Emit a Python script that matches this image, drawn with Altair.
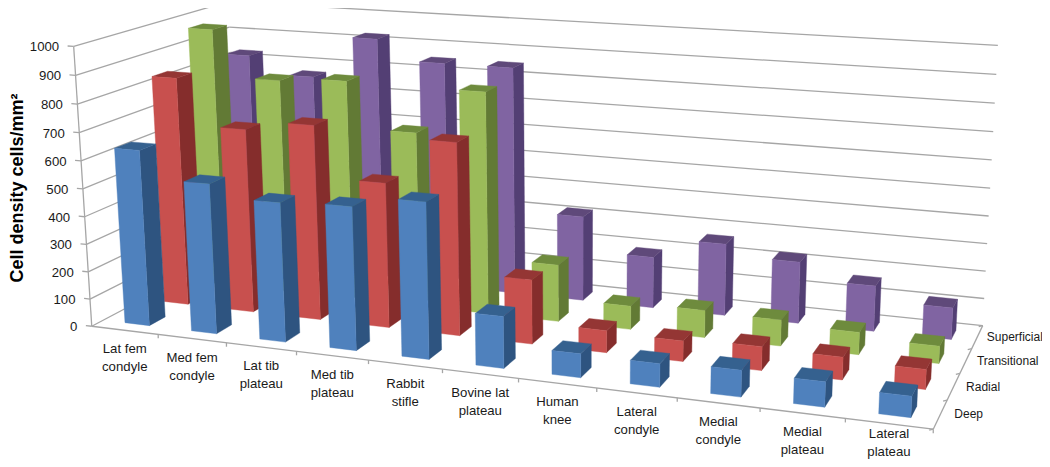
import numpy as np
import altair as alt

categories = ["Lat fem\ncondyle", "Med fem\ncondyle", "Lat tib\nplateau", "Med tib\nplateau", "Rabbit\nstifle",
              "Bovine lat\nplateau", "Human\nknee", "Lateral\ncondyle", "Medial\ncondyle", "Medial\nplateau", "Lateral\nplateau"]
series = ["Deep", "Radial", "Transitional", "Superficial"]
deep = [635, 538, 495, 505, 545, 180, 82, 80, 90, 84, 70]
radial = [840, 673, 708, 523, 688, 229, 78, 72, 83, 78, 68]
transitional = [972, 800, 815, 645, 812, 208, 85, 98, 93, 79, 61]
superficial = [830, 765, 925, 850, 850, 317, 190, 265, 225, 165, 114]
value_ticks = [0, 100, 200, 300, 400, 500, 600, 700, 800, 900, 1000]

front = ["#4F81BD", "#C8504E", "#9BBB59", "#8064A2"]
side = ["#2E5480", "#852D2C", "#627A35", "#533F74"]
top = ["#35618F", "#943634", "#6E8B3D", "#5F497A"]
grey = "#A6A6A6"
FONT = "Liberation Sans"

# camera calibration: (category pos, value, depth pos) -> page pixel
calib = [((0, 0, 0), (92.5, 325)), ((11, 0, 0), (933, 429)), ((0, 0, 4), (239, 249)), ((11, 0, 4), (983, 324)),
         ((0, 1000, 0), (74, 46)), ((0, 1000, 4), (228, 2)), ((11, 1000, 4), (998, 46)),
         ((5, 0, 0), (442, 372)), ((0, 500, 0), (82.5, 188))]
A = []
for (cx, cy, cz), (u, v) in calib:
    p = [cx / 11, cy / 1000, cz / 4, 1]
    A.append(p + [0, 0, 0, 0] + [-u * k for k in p])
    A.append([0, 0, 0, 0] + p + [-v * k for k in p])
P = np.linalg.svd(np.array(A))[2][-1].reshape(3, 4)


def proj(cx, cy, cz):
    """Project to chart pixels (page minus the 8px margin)."""
    h = P @ np.array([cx / 11, cy / 1000, cz / 4, 1])
    return float(h[0] / h[2] - 8), float(h[1] / h[2] - 8)


BAR_X = (0.33, 0.70)
BAR_Z = (0.28, 0.68)
rows = [deep, radial, transitional, superficial]
features = []


def face(points, fill):
    ring = [list(proj(*p)) for p in points]
    ring.append(ring[0])
    features.append({"type": "Feature", "properties": {"fill": fill},
                     "geometry": {"type": "Polygon", "coordinates": [ring]}})


for j in range(3, -1, -1):
    for i, val in enumerate(rows[j]):
        x0, x1 = i + BAR_X[0], i + BAR_X[1]
        z0, z1 = j + BAR_Z[0], j + BAR_Z[1]
        face([(x1, 0, z0), (x1, val, z0), (x1, val, z1), (x1, 0, z1)], side[j])
        face([(x0, val, z0), (x1, val, z0), (x1, val, z1), (x0, val, z1)], top[j])
        face([(x0, 0, z0), (x1, 0, z0), (x1, val, z0), (x0, val, z0)], front[j])

seg = []


def segment(a, b):
    (x, y), (x2, y2) = proj(*a), proj(*b)
    seg.append({"x": x, "y": y, "x2": x2, "y2": y2})


for v in value_ticks:
    segment((0, v, 0), (0, v, 4))
    segment((0, v, 4), (11, v, 4))
    segment((0, v, 0), (-0.09, v, 0))
segment((0, 0, 0), (0, 1000, 0))
segment((0, 0, 0), (11, 0, 0))
segment((11, 0, 0), (11, 0, 4))
for i in range(1, 12):
    a = proj(i, 0, 0)
    seg.append({"x": a[0], "y": a[1], "x2": a[0], "y2": a[1] + 4})
for j in range(0, 5):
    a = proj(11, 0, j)
    seg.append({"x": a[0], "y": a[1], "x2": a[0] - 4, "y2": a[1] + 1})

labels = []
for v in value_ticks:
    x, y = proj(0, v, 0)
    labels.append({"x": x - 14.5, "y": y + 1, "t": str(v), "a": "right"})
for i, c in enumerate(categories):
    x, y = proj(i + 0.5, 0, 0)
    # the last label is lifted so that its second line stays on the canvas
    labels.append({"x": x, "y": y + (19 if i < 10 else 10), "t": c, "a": "center"})
series_labels = []
for j, s in enumerate(series):
    x, y = proj(11, 0, j + 0.5)
    series_labels.append({"x": x + 14 - 1.5 * j, "y": y, "t": s})

sx = alt.X("x:Q", scale=None, axis=None)
sy = alt.Y("y:Q", scale=None, axis=None)

rules = alt.Chart(alt.Data(values=seg)).mark_rule(color=grey, strokeWidth=1.3).encode(
    x=sx, y=sy, x2="x2:Q", y2="y2:Q")

bars = alt.Chart(alt.InlineData(values={"features": features}, format=alt.DataFormat(type="json", property="features"))
                 ).mark_geoshape(strokeWidth=0.4).encode(
    fill=alt.Fill("properties.fill:N", scale=None),
    stroke=alt.Stroke("properties.fill:N", scale=None),
).project(type="identity", scale=1, translate=[0, 0])


def text_layer(align):
    return alt.Chart(alt.Data(values=[r for r in labels if r["a"] == align])).mark_text(
        font=FONT, fontSize=13.2, color="#1a1a1a", align=align, baseline="middle", lineBreak="\n", lineHeight=18
    ).encode(x=sx, y=sy, text="t:N")


series_layer = alt.Chart(alt.Data(values=series_labels)).mark_text(
    font=FONT, fontSize=12, color="#1a1a1a", align="left", baseline="middle"
).encode(x=sx, y=sy, text="t:N")

title_df = [{"x": 10, "y": 180, "t": "Cell density cells/mm²"}]
title = alt.Chart(alt.Data(values=title_df)).mark_text(
    font=FONT, fontSize=18, fontWeight="bold", color="#000000", angle=270, align="center", baseline="middle"
).encode(x=sx, y=sy, text="t:N")

chart = alt.layer(rules, bars, text_layer("right"), text_layer("center"), series_layer, title).properties(
    width=1034, height=451, padding=0, autosize=alt.AutoSizeParams(type="none"), background="white"
).configure_view(stroke=None)

chart.save("out.html", embed_options={"renderer": "svg", "actions": False})
